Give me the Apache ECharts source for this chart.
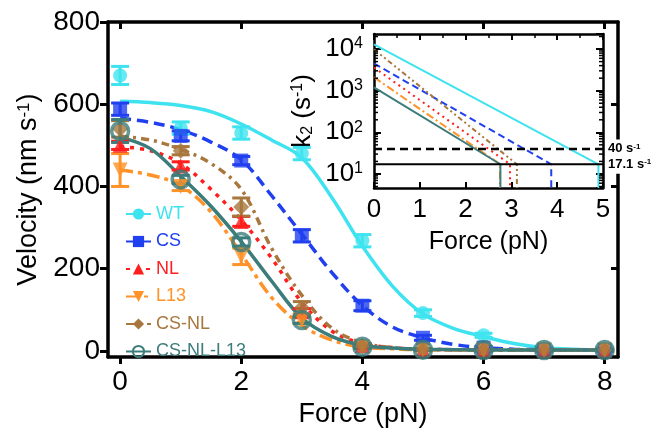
<!DOCTYPE html>
<html><head><meta charset="utf-8">
<script src="https://cdn.jsdelivr.net/npm/echarts@6/dist/echarts.min.js"></script>
<style>html,body{margin:0;padding:0;background:#fff}#c{width:659px;height:433px}</style>
</head><body><div id="c"></div>
<script>
// ---------- data ----------
const seriesNames = ['WT', 'CS', 'NL', 'L13', 'CS-NL', 'CS-NL-L13'];
const seriesColors = ['#3ee3ef', '#2040f0', '#ff1e1e', '#ff9228', '#a8773d', '#3c7d7b'];

const forcePts = [0, 1, 2, 3, 4, 5, 6, 7, 8];
const velWT      = [670, 542, 530, 480, 268, 92, 38, 5, 2];
const velCS      = [588, 523, 463, 280, 110, 32, 8, 3, 2];
const velNL      = [500, 450, 315, 95, 13, 3, 2, 2, 2];
const velL13     = [440, 400, 230, 75, 10, 2, 2, 2, 2];
const velCSNL    = [540, 487, 350, 105, 12, 4, 2, 2, 2];
const velCSNLL13 = [535, 417, 265, 75, 10, 3, 2, 2, 2];

const errWT      = [22, 15, 15, 15, 15, 8, 5, 2, 2];
const errCS      = [15, 12, 10, 15, 12, 6, 3, 2, 2];
const errNL      = [10, 10, 12, 8, 5, 2, 2, 2, 2];
const errL13     = [40, 10, 20, 8, 4, 2, 2, 2, 2];
const errCSNL    = [20, 10, 22, 15, 5, 2, 2, 2, 2];
const errCSNLL13 = [28, 10, 10, 8, 4, 2, 2, 2, 2];

const fitForce   = [0, 0.5, 1, 1.5, 2, 2.5, 3, 3.5, 4, 4.5, 5, 5.5, 6, 6.5, 7, 7.5, 8];
const fitWT      = [607, 604, 597, 582, 552, 513, 470, 372, 255, 157, 90, 55, 35, 18, 8, 4, 2];
const fitCS      = [566, 556, 538, 508, 465, 378, 284, 190, 110, 58, 32, 16, 8, 4, 3, 2, 2];
const fitNL      = [497, 487, 456, 393, 318, 226, 118, 48, 18, 8, 4, 3, 2, 2, 2, 2, 2];
const fitL13     = [440, 428, 402, 338, 236, 130, 62, 26, 10, 5, 3, 2, 2, 2, 2, 2, 2];
const fitCSNL    = [522, 513, 490, 456, 393, 250, 135, 55, 20, 8, 4, 3, 2, 2, 2, 2, 2];
const fitCSNLL13 = [520, 492, 425, 352, 266, 170, 80, 35, 14, 7, 4, 3, 2, 2, 2, 2, 2];

// inset: k2 at zero force and force where k2 reaches threshold (WT, CS, NL, L13, CS-NL, CS-NL-L13)
const k2AtZero = [13000, 4500, 3600, 2100, 9800, 1200];
const forceAtThreshold = [4.9, 3.87, 2.97, 2.75, 3.12, 2.76];
const k2Threshold = 17.1;
const k2Reference = 40;

const xTicks = [0, 2, 4, 6, 8];
const yTicks = [0, 200, 400, 600, 800];
const yTicksRight = [200, 400, 600];
const insetMinorTicks = [5, 6, 7, 8, 9, 20, 30, 40, 50, 60, 70, 80, 90, 200, 300, 400, 500, 600, 700, 800, 900,
  2000, 3000, 4000, 5000, 6000, 7000, 8000, 9000, 20000];

// ---------- styles ----------
const FONT = '"Liberation Sans", Arial, Helvetica, sans-serif';
const symbols = ['circle', 'rect', 'triangle', 'triangle', 'diamond', 'circle'];
const symbolRot = [0, 0, 0, 180, 0, 0];
const symbolSizes = [14, 14, 15, 15, 16, 17];
const mainDash = ['solid', [11, 6], [4, 6], [13, 5, 4, 5], [8, 5, 3, 5], 'solid'];
const insetDash = ['solid', [7, 4], [2, 4], [8, 3, 2, 3], [5, 3, 2, 3, 2, 3], 'solid'];
const MAIN_X_MIN = -0.2, MAIN_X_MAX = 8.22, MAIN_Y_MIN = -15, MAIN_Y_MAX = 800;
const INSET_Y_MIN = 4.6, INSET_Y_MAX = 23000;

const velAll = [velWT, velCS, velNL, velL13, velCSNL, velCSNLL13];
const errAll = [errWT, errCS, errNL, errL13, errCSNL, errCSNLL13];
const fitAll = [fitWT, fitCS, fitNL, fitL13, fitCSNL, fitCSNLL13];

function errRender(color) {
  return function (params, api) {
    const x = api.value(0), lo = api.value(1), hi = api.value(2);
    const p1 = api.coord([x, hi]), p2 = api.coord([x, lo]);
    const w = 9;
    const st = { stroke: color, lineWidth: 3 };
    return { type: 'group', children: [
      { type: 'line', shape: { x1: p1[0], y1: p1[1], x2: p2[0], y2: p2[1] }, style: st },
      { type: 'line', shape: { x1: p1[0] - w, y1: p1[1], x2: p1[0] + w, y2: p1[1] }, style: st },
      { type: 'line', shape: { x1: p2[0] - w, y1: p2[1], x2: p2[0] + w, y2: p2[1] }, style: st }
    ] };
  };
}

const series = [];
seriesNames.forEach(function (name, i) {
  const c = seriesColors[i];
  const hollow = (i === 5);
  series.push({
    name: name, type: 'line', xAxisIndex: 0, yAxisIndex: 0,
    data: fitForce.map((f, j) => [f, fitAll[i][j]]),
    smooth: 0.35, showSymbol: false, symbol: symbols[i], symbolRotate: symbolRot[i],
    lineStyle: { color: c, width: 3.5, type: mainDash[i] },
    itemStyle: hollow ? { color: 'rgba(0,0,0,0)', borderColor: c, borderWidth: 2.5 } : { color: c },
    z: 2, silent: true
  });
});
seriesNames.forEach(function (name, i) {
  const c = seriesColors[i];
  series.push({
    name: name + ' err', type: 'custom', xAxisIndex: 0, yAxisIndex: 0,
    renderItem: errRender(c),
    encode: { x: 0, y: [1, 2] },
    data: forcePts.map((f, j) => [f, velAll[i][j] - errAll[i][j], velAll[i][j] + errAll[i][j]]),
    z: 3, silent: true
  });
});
seriesNames.forEach(function (name, i) {
  const c = seriesColors[i];
  const hollow = (i === 5);
  series.push({
    name: name + ' pts', type: 'scatter', xAxisIndex: 0, yAxisIndex: 0,
    data: forcePts.map((f, j) => [f, velAll[i][j]]),
    symbol: symbols[i], symbolRotate: symbolRot[i], symbolSize: symbolSizes[i],
    itemStyle: hollow ? { color: 'rgba(0,0,0,0)', borderColor: c, borderWidth: 3.5 } : { color: c },
    z: 4 + i * 0.01, silent: true
  });
});
// inset lines
seriesNames.forEach(function (name, i) {
  series.push({
    name: name + ' k2', type: 'line', xAxisIndex: 2, yAxisIndex: 2,
    data: [[0, k2AtZero[i]], [forceAtThreshold[i], k2Threshold], [forceAtThreshold[i], INSET_Y_MIN]],
    showSymbol: false, symbol: 'none',
    lineStyle: { color: seriesColors[i], width: 2, type: insetDash[i] },
    z: 5, silent: true
  });
});
function refLabel(txt) {
  return {
    show: true, distance: 5,
    formatter: function () { return '{n|' + txt + ' s}{u|-1}'; },
    backgroundColor: '#fff', padding: [3, 3, 3, 0],
    rich: {
      n: { fontSize: 13, fontWeight: 'bold', color: '#000', fontFamily: FONT },
      u: { fontSize: 8, fontWeight: 'bold', color: '#000', fontFamily: FONT, verticalAlign: 'top' }
    }
  };
}
series.push({
  name: 'ref40', type: 'line', xAxisIndex: 2, yAxisIndex: 2,
  data: [[0, k2Reference], [5, k2Reference]], showSymbol: false, symbol: 'none',
  lineStyle: { color: '#000', width: 2.5, type: [8, 5] }, endLabel: refLabel('40'), z: 6, silent: true
});
series.push({
  name: 'ref17', type: 'line', xAxisIndex: 2, yAxisIndex: 2,
  data: [[0, k2Threshold], [5, k2Threshold]], showSymbol: false, symbol: 'none',
  lineStyle: { color: '#000', width: 2 }, endLabel: refLabel('17.1'), z: 6, silent: true
});
// inset minor log ticks (left and right, inward)
series.push({
  name: 'minorTicks', type: 'custom', xAxisIndex: 2, yAxisIndex: 2,
  data: insetMinorTicks.map(v => [0, v]),
  renderItem: function (params, api) {
    const p = api.coord([0, api.value(1)]);
    const cs = params.coordSys;
    const st = { stroke: '#000', lineWidth: 1.5 };
    return { type: 'group', children: [
      { type: 'line', shape: { x1: cs.x, y1: p[1], x2: cs.x + 4, y2: p[1] }, style: st },
      { type: 'line', shape: { x1: cs.x + cs.width - 4, y1: p[1], x2: cs.x + cs.width, y2: p[1] }, style: st }
    ] };
  },
  z: 7, silent: true
});

const axLine = (w) => ({ show: true, onZero: false, lineStyle: { color: '#000', width: w } });

const option = {
  animation: false,
  backgroundColor: '#fff',
  textStyle: { fontFamily: FONT },
  grid: [
    { left: 108, top: 22, width: 510, height: 339 },
    { left: 374, top: 34, width: 229, height: 154 }
  ],
  legend: {
    orient: 'vertical', left: 120, top: 200,
    itemWidth: 25, itemHeight: 14, itemGap: 9.5,
    data: seriesNames.map((n, i) => ({ name: n, textStyle: { color: seriesColors[i] } })),
    textStyle: { fontSize: 18, fontFamily: FONT, lineHeight: 18 },
    selectedMode: false
  },
  xAxis: [
    { gridIndex: 0, type: 'value', min: MAIN_X_MIN, max: MAIN_X_MAX, position: 'bottom',
      axisLine: axLine(3.5),
      axisTick: { show: true, customValues: xTicks, length: 7, lineStyle: { width: 3, color: '#000' } },
      axisLabel: { customValues: xTicks, fontSize: 28, color: '#000', margin: 11, fontFamily: FONT },
      splitLine: { show: false },
      name: 'Force (pN)', nameLocation: 'middle', nameGap: 40,
      nameTextStyle: { fontSize: 27, color: '#000', fontFamily: FONT } },
    { gridIndex: 0, type: 'value', min: MAIN_X_MIN, max: MAIN_X_MAX, position: 'top',
      axisLine: axLine(3.5),
      axisTick: { show: true, inside: true, customValues: xTicks, length: 7, lineStyle: { width: 3, color: '#000' } },
      axisLabel: { show: false }, splitLine: { show: false } },
    { gridIndex: 1, type: 'value', min: 0, max: 5, interval: 1, position: 'bottom',
      axisLine: axLine(2.5),
      axisTick: { show: true, inside: true, length: 6, lineStyle: { width: 2, color: '#000' } },
      axisLabel: { fontSize: 26, color: '#000', margin: 9, fontFamily: FONT },
      splitLine: { show: false },
      name: 'Force (pN)', nameLocation: 'middle', nameGap: 42,
      nameTextStyle: { fontSize: 25, color: '#000', fontFamily: FONT } },
    { gridIndex: 1, type: 'value', min: 0, max: 5, interval: 1, position: 'top',
      axisLine: axLine(2.5),
      axisTick: { show: true, inside: true, length: 6, lineStyle: { width: 2, color: '#000' } },
      minorTick: { show: true, splitNumber: 2, length: 4, lineStyle: { width: 1.5, color: '#000' } },
      axisLabel: { show: false }, splitLine: { show: false } }
  ],
  yAxis: [
    { gridIndex: 0, type: 'value', min: MAIN_Y_MIN, max: MAIN_Y_MAX, position: 'left',
      axisLine: axLine(3.5),
      axisTick: { show: true, customValues: yTicks, length: 8, lineStyle: { width: 3, color: '#000' } },
      axisLabel: { customValues: yTicks, fontSize: 28, color: '#000', margin: 8, fontFamily: FONT },
      splitLine: { show: false },
      name: '{t|Velocity (nm s}{s|-1}{t|)}', nameLocation: 'middle', nameGap: 65, nameRotate: 90,
      nameTextStyle: { fontSize: 27, color: '#000', fontFamily: FONT,
        rich: { t: { fontSize: 27, fontFamily: FONT, color: '#000' },
                s: { fontSize: 17, fontFamily: FONT, color: '#000', verticalAlign: 'top' } } } },
    { gridIndex: 0, type: 'value', min: MAIN_Y_MIN, max: MAIN_Y_MAX, position: 'right',
      axisLine: axLine(3.5),
      axisTick: { show: true, inside: true, customValues: yTicksRight, length: 7, lineStyle: { width: 3, color: '#000' } },
      axisLabel: { show: false }, splitLine: { show: false } },
    { gridIndex: 1, type: 'log', logBase: 10, min: INSET_Y_MIN, max: INSET_Y_MAX, position: 'left',
      axisLine: axLine(2.5),
      axisTick: { show: true, inside: true, length: 7, lineStyle: { width: 2, color: '#000' } },
      axisLabel: {
        margin: 11, showMinLabel: false, showMaxLabel: false,
        formatter: function (v) {
          const l = Math.log10(v), e = Math.round(l);
          if (Math.abs(l - e) > 0.01) return '';
          return '{b|10}{s|' + e + '}';
        },
        rich: { b: { fontSize: 26, color: '#000', fontFamily: FONT },
                s: { fontSize: 16, color: '#000', fontFamily: FONT, verticalAlign: 'top' } }
      },
      splitLine: { show: false },
      name: '{t|k}{d|2}{t| (s}{s|-1}{t|)}', nameLocation: 'middle', nameGap: 58, nameRotate: 90,
      nameTextStyle: { fontSize: 26, color: '#000', fontFamily: FONT,
        rich: { t: { fontSize: 26, fontFamily: FONT, color: '#000' },
                d: { fontSize: 16, fontFamily: FONT, color: '#000', verticalAlign: 'bottom' },
                s: { fontSize: 16, fontFamily: FONT, color: '#000', verticalAlign: 'top' } } } },
    { gridIndex: 1, type: 'log', logBase: 10, min: INSET_Y_MIN, max: INSET_Y_MAX, position: 'right',
      axisLine: axLine(2.5),
      axisTick: { show: true, inside: true, length: 7, lineStyle: { width: 2, color: '#000' } },
      axisLabel: { show: false }, splitLine: { show: false } }
  ],
  series: series
};

const chart = echarts.init(document.getElementById('c'), null, { renderer: 'canvas' });
chart.setOption(option);
</script>
</body></html>
